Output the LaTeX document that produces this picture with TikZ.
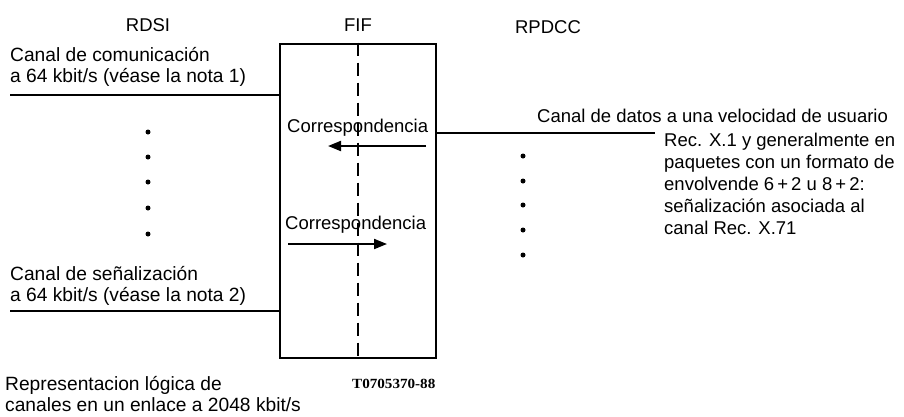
\documentclass[tikz,border=0pt]{standalone}
\usepackage{fontspec}
\setmainfont{Liberation Sans}
\newfontfamily\codefont{Liberation Serif}
\usetikzlibrary{arrows.meta}
\begin{document}
\begin{tikzpicture}[x=1pt,y=-1pt,
  txt/.style={anchor=base west,inner sep=0pt,font=\fontsize{19.2}{21}\selectfont},
  ctxt/.style={anchor=base west,inner sep=0pt,font=\fontsize{18.5}{21}\selectfont},
  ttl/.style={anchor=base,inner sep=0pt,font=\fontsize{18.5}{21}\selectfont},
  wire/.style={line width=2pt},
  mapar/.style={line width=2pt,-{Triangle[length=13pt,width=10pt]}},
  dot/.style={circle,fill=black,inner sep=0pt,minimum size=5pt},
  fifbox/.style={draw,line width=2.7pt,minimum width=156pt,minimum height=314pt,inner sep=0pt}]
\useasboundingbox (0,0) rectangle (904,416);
% titles
\node[ttl] (rdsi) at (148,31) {RDSI};
\node[ttl] (fiflbl) at (358,31) {FIF};
\node[ttl] (rpdcc) at (548,33) {RPDCC};
% box
\node[fifbox] (fif) at (358,201) {};
\draw[line width=2pt,dash pattern=on 13pt off 7pt] (fif.north) -- (fif.south);
% left texts
\node[txt] (c1a) at (10,61) {Canal de comunicación};
\node[txt] (c1b) at (10,82) {a 64 kbit/s (véase la nota 1)};
\coordinate (l1) at (10,95);
\draw[wire] (l1) -- (l1 -| fif.west);
\foreach \yy [count=\i] in {132,157,182,208,234} \node[dot] (ld\i) at (148,\yy) {};
\node[txt] (c2a) at (10,280) {Canal de señalización};
\node[txt] (c2b) at (10,301) {a 64 kbit/s (véase la nota 2)};
\coordinate (l2) at (10,311);
\draw[wire] (l2) -- (l2 -| fif.west);
% correspondencias
\node[ctxt] (corr1) at (287,132) {Correspondencia};
\coordinate (a1s) at (426,146);
\coordinate (a1e) at (328,146);
\draw[mapar] (a1s) -- (a1e);
\node[ctxt] (corr2) at (285,229) {Correspondencia};
\coordinate (a2s) at (288,244);
\coordinate (a2e) at (387,244);
\draw[mapar] (a2s) -- (a2e);
% right
\coordinate (r1) at (655,133);
\draw[wire] (r1 -| fif.east) -- (r1);
\node[ctxt] (d0) at (537,122) {Canal de datos a una velocidad de usuario};
\node[ctxt] (d1) at (664,146) {Rec. X.1 y generalmente en};
\node[ctxt] (d2) at (664,168) {paquetes con un formato de};
\node[ctxt] (d3) at (664,190) {envolvende 6\,+\,2 u 8\,+\,2:};
\node[ctxt] (d4) at (664,212) {señalización asociada al};
\node[ctxt] (d5) at (664,234) {canal Rec. X.71};
\foreach \yy [count=\i] in {156,181,205,230,255} \node[dot] (rd\i) at (523,\yy) {};
% bottom
\node[txt] (b1) at (5,390) {Representacion lógica de};
\node[txt] (b2) at (5,411) {canales en un enlace a 2048 kbit/s};
\node[anchor=base west,inner sep=0pt,font=\codefont\bfseries\fontsize{14}{16}\selectfont] (code) at (352,388) {\scalebox{1.08}[1]{T0705370-88}};
\end{tikzpicture}
\end{document}
